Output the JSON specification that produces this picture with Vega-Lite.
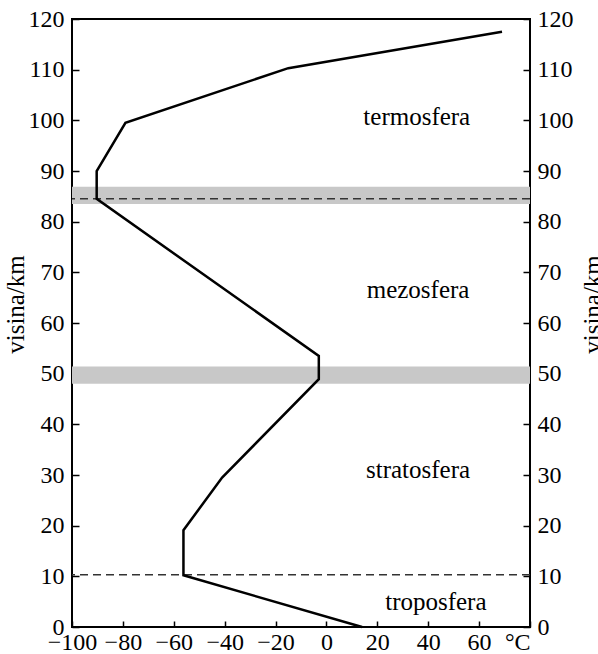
{
  "$schema": "https://vega.github.io/schema/vega-lite/v6.json",
  "width": 458,
  "height": 608,
  "autosize": "none",
  "padding": {"left": 72, "top": 19, "right": 68, "bottom": 27},
  "background": "white",
  "config": {
    "font": "Liberation Serif",
    "view": {"stroke": "black", "strokeWidth": 2},
    "axis": {
      "domain": false,
      "grid": false,
      "tickColor": "black",
      "tickWidth": 1.5,
      "labelColor": "black",
      "titleColor": "black"
    }
  },
  "datasets": {
    "profile": [
      {"t": 14, "h": 0},
      {"t": -56.2, "h": 10.2},
      {"t": -56.2, "h": 19.1},
      {"t": -41, "h": 29.5},
      {"t": -3, "h": 48.9},
      {"t": -3, "h": 53.5},
      {"t": -90.3, "h": 84.5},
      {"t": -90.3, "h": 90},
      {"t": -79, "h": 99.5},
      {"t": -15, "h": 110.3},
      {"t": 69, "h": 117.5}
    ],
    "bands": [
      {"h1": 48, "h2": 51.4},
      {"h1": 83.5, "h2": 86.9}
    ],
    "pauses": [
      {"h": 84.5},
      {"h": 10.3}
    ],
    "labels": [
      {"name": "termosfera", "t": 35.5, "h": 100.6},
      {"name": "mezosfera", "t": 36, "h": 66.5},
      {"name": "stratosfera", "t": 36, "h": 31},
      {"name": "troposfera", "t": 43, "h": 4.9}
    ]
  },
  "layer": [
    {
      "data": {"name": "bands"},
      "mark": {"type": "rect", "color": "#c8c8c8"},
      "encoding": {
        "x": {"value": 0},
        "x2": {"value": "width"},
        "y": {"field": "h1", "type": "quantitative", "scale": {"domain": [0, 120]}, "axis": null},
        "y2": {"field": "h2"}
      }
    },
    {
      "data": {"name": "pauses"},
      "mark": {"type": "rule", "color": "#333333", "strokeWidth": 1.5, "strokeDash": [8, 5]},
      "encoding": {
        "y": {
          "field": "h",
          "type": "quantitative",
          "scale": {"domain": [0, 120]},
          "axis": {
            "orient": "right",
            "values": [0, 10, 20, 30, 40, 50, 60, 70, 80, 90, 100, 110, 120],
            "tickSize": -7,
            "labelPadding": 14,
            "labelAlign": "left",
            "labelBaseline": "middle",
            "labelFont": "Liberation Serif",
            "labelFontSize": 24,
            "labelFontWeight": "normal",
            "title": "visina/km",
            "titleFont": "Liberation Serif",
            "titleFontSize": 25,
            "titleFontWeight": "normal",
            "titleAngle": -90,
            "titleX": 62,
            "titleY": 285,
            "titleAlign": "center",
            "titleBaseline": "middle"
          }
        }
      }
    },
    {
      "data": {"name": "profile"},
      "mark": {"type": "line", "color": "black", "strokeWidth": 2.5, "strokeJoin": "miter"},
      "encoding": {
        "x": {
          "field": "t",
          "type": "quantitative",
          "scale": {"domain": [-100, 80], "nice": false, "zero": false},
          "axis": {
            "values": [-100, -80, -60, -40, -20, 0, 20, 40, 60, 80],
            "labelExpr": "datum.value == 80 ? '°C\u00a0' : datum.label",
            "labelFlush": false,
            "labelAlign": {"condition": {"test": "datum.value == 80", "value": "right"}, "value": "center"},
            "labelFont": "Liberation Serif",
            "labelFontSize": 24,
            "labelFontWeight": "normal",
            "tickSize": -6,
            "labelPadding": 9,
            "title": null
          }
        },
        "y": {
          "field": "h",
          "type": "quantitative",
          "scale": {"domain": [0, 120]},
          "axis": {
            "orient": "left",
            "values": [0, 10, 20, 30, 40, 50, 60, 70, 80, 90, 100, 110, 120],
            "tickSize": -7,
            "labelPadding": 15,
            "labelBaseline": "middle",
            "labelFont": "Liberation Serif",
            "labelFontSize": 24,
            "labelFontWeight": "normal",
            "title": "visina/km",
            "titleFont": "Liberation Serif",
            "titleFontSize": 25,
            "titleFontWeight": "normal",
            "titleAngle": -90,
            "titleX": -57,
            "titleY": 285,
            "titleAlign": "center",
            "titleBaseline": "middle"
          }
        },
        "order": {"field": "h", "type": "quantitative"}
      }
    },
    {
      "data": {"name": "labels"},
      "mark": {"type": "text", "font": "Liberation Serif", "fontSize": 25, "color": "black", "align": "center", "baseline": "middle"},
      "encoding": {
        "x": {"field": "t", "type": "quantitative"},
        "y": {"field": "h", "type": "quantitative", "axis": null},
        "text": {"field": "name"}
      }
    }
  ],
  "resolve": {"axis": {"y": "independent"}}
}
